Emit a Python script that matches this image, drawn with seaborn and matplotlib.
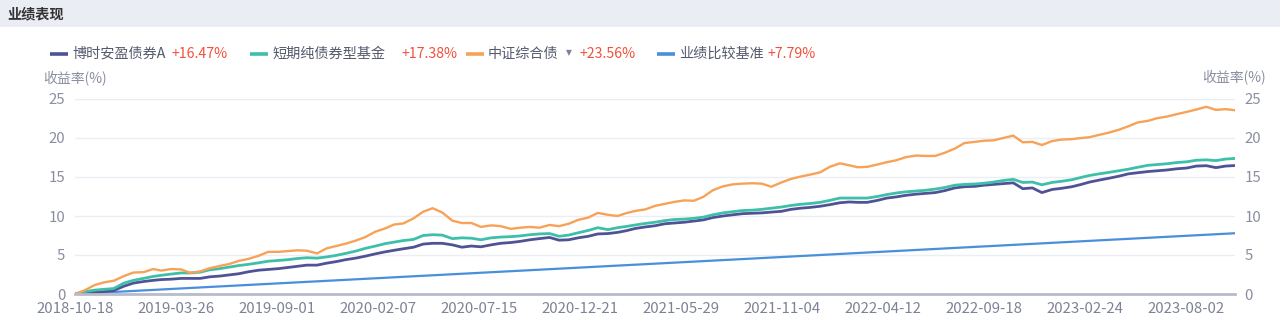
import matplotlib
matplotlib.use("Agg")
import matplotlib.pyplot as plt
from matplotlib.lines import Line2D
from matplotlib.patches import Rectangle
import pandas as pd
import seaborn as sns

# ---------------- data ----------------
dates = [
    "2018-10-18",
    "2018-11-03", "2018-11-18", "2018-12-03", "2018-12-18",
    "2019-01-03", "2019-01-18", "2019-02-03", "2019-02-18", "2019-03-03", "2019-03-18",
    "2019-04-03", "2019-04-18", "2019-05-03", "2019-05-18", "2019-06-03", "2019-06-18",
    "2019-07-03", "2019-07-18", "2019-08-03", "2019-08-18", "2019-09-03", "2019-09-18",
    "2019-10-03", "2019-10-18", "2019-11-03", "2019-11-18", "2019-12-03", "2019-12-18",
    "2020-01-03", "2020-01-18", "2020-02-03", "2020-02-18", "2020-03-03", "2020-03-18",
    "2020-04-03", "2020-04-18", "2020-05-03", "2020-05-18", "2020-06-03", "2020-06-18",
    "2020-07-03", "2020-07-18", "2020-08-03", "2020-08-18", "2020-09-03", "2020-09-18",
    "2020-10-03", "2020-10-18", "2020-11-03", "2020-11-18", "2020-12-03", "2020-12-18",
    "2021-01-03", "2021-01-18", "2021-02-03", "2021-02-18", "2021-03-03", "2021-03-18",
    "2021-04-03", "2021-04-18", "2021-05-03", "2021-05-18", "2021-06-03", "2021-06-18",
    "2021-07-03", "2021-07-18", "2021-08-03", "2021-08-18", "2021-09-03", "2021-09-18",
    "2021-10-03", "2021-10-18", "2021-11-03", "2021-11-18", "2021-12-03", "2021-12-18",
    "2022-01-03", "2022-01-18", "2022-02-03", "2022-02-18", "2022-03-03", "2022-03-18",
    "2022-04-03", "2022-04-18", "2022-05-03", "2022-05-18", "2022-06-03", "2022-06-18",
    "2022-07-03", "2022-07-18", "2022-08-03", "2022-08-18", "2022-09-03", "2022-09-18",
    "2022-10-03", "2022-10-18", "2022-11-03", "2022-11-18", "2022-12-03", "2022-12-18",
    "2023-01-03", "2023-01-18", "2023-02-03", "2023-02-18", "2023-03-03", "2023-03-18",
    "2023-04-03", "2023-04-18", "2023-05-03", "2023-05-18", "2023-06-03", "2023-06-18",
    "2023-07-03", "2023-07-18", "2023-08-03", "2023-08-18", "2023-09-03", "2023-09-18",
    "2023-10-03", "2023-10-18",
]

fund_a = [
    0.0, 0.15, 0.2, 0.3, 0.45, 1.0, 1.4, 1.6, 1.75, 1.85, 1.9,
    2.0, 2.0, 2.0, 2.2, 2.3, 2.45, 2.6, 2.85, 3.05, 3.15, 3.25, 3.4,
    3.55, 3.7, 3.7, 3.95, 4.15, 4.4, 4.6, 4.85, 5.15, 5.4, 5.6, 5.8,
    6.0, 6.4, 6.5, 6.5, 6.3, 6.0, 6.15, 6.05, 6.3, 6.5, 6.6, 6.75,
    6.95, 7.1, 7.25, 6.9, 6.95, 7.2, 7.4, 7.7, 7.75, 7.9, 8.1, 8.4,
    8.6, 8.75, 9.0, 9.1, 9.2, 9.35, 9.5, 9.8, 10.0, 10.15, 10.3, 10.35,
    10.4, 10.5, 10.6, 10.85, 11.0, 11.1, 11.25, 11.45, 11.7, 11.8, 11.75, 11.75,
    12.0, 12.3, 12.45, 12.65, 12.8, 12.9, 13.0, 13.25, 13.6, 13.75, 13.8, 13.95,
    14.05, 14.15, 14.25, 13.5, 13.6, 13.0, 13.4, 13.55, 13.75, 14.05, 14.35, 14.6,
    14.85, 15.1, 15.4, 15.55, 15.7, 15.8, 15.9, 16.05, 16.15, 16.4, 16.45, 16.2,
    16.4, 16.47,
]

short_bond = [
    0.0, 0.3, 0.5, 0.6, 0.7, 1.4, 1.75, 2.0, 2.25, 2.4, 2.55,
    2.7, 2.7, 2.8, 3.1, 3.25, 3.45, 3.65, 3.8, 4.0, 4.2, 4.3, 4.4,
    4.55, 4.65, 4.6, 4.75, 4.95, 5.2, 5.5, 5.85, 6.15, 6.45, 6.65, 6.85,
    7.0, 7.5, 7.6, 7.55, 7.1, 7.2, 7.15, 6.95, 7.2, 7.3, 7.35, 7.45,
    7.6, 7.7, 7.75, 7.4, 7.55, 7.85, 8.15, 8.5, 8.25, 8.5, 8.65, 8.85,
    9.05, 9.2, 9.4, 9.55, 9.6, 9.7, 9.85, 10.15, 10.4, 10.55, 10.7, 10.75,
    10.85, 11.0, 11.15, 11.35, 11.5, 11.6, 11.75, 12.0, 12.3, 12.3, 12.3, 12.3,
    12.5, 12.75, 12.95, 13.1, 13.2, 13.3, 13.45, 13.65, 13.95, 14.05, 14.1, 14.2,
    14.35, 14.55, 14.7, 14.3, 14.35, 14.0, 14.3, 14.45, 14.65, 14.95, 15.2, 15.4,
    15.6, 15.8, 16.0, 16.25, 16.5, 16.6, 16.7, 16.85, 16.95, 17.15, 17.2, 17.1,
    17.3, 17.38,
]

csi_bond = [
    0.0, 0.5, 1.15, 1.5, 1.7, 2.3, 2.75, 2.8, 3.2, 3.0, 3.2,
    3.15, 2.7, 2.9, 3.3, 3.6, 3.85, 4.25, 4.5, 4.9, 5.4, 5.4, 5.5,
    5.6, 5.55, 5.2, 5.85, 6.15, 6.45, 6.85, 7.3, 8.0, 8.4, 8.9, 9.05,
    9.7, 10.55, 11.0, 10.45, 9.4, 9.1, 9.1, 8.6, 8.8, 8.7, 8.35, 8.5,
    8.6, 8.5, 8.85, 8.7, 9.0, 9.5, 9.8, 10.4, 10.15, 10.0, 10.35, 10.65,
    10.85, 11.3, 11.55, 11.8, 12.0, 11.95, 12.45, 13.3, 13.8, 14.05, 14.15, 14.2,
    14.15, 13.75, 14.3, 14.75, 15.05, 15.3, 15.6, 16.3, 16.75, 16.5, 16.25, 16.3,
    16.6, 16.9, 17.15, 17.55, 17.75, 17.7, 17.7, 18.1, 18.65, 19.35, 19.5, 19.65,
    19.7, 20.0, 20.3, 19.45, 19.5, 19.1, 19.6, 19.8, 19.85, 20.0, 20.1, 20.4,
    20.7, 21.05, 21.5, 22.0, 22.2, 22.55, 22.75, 23.05, 23.35, 23.65, 24.0, 23.6,
    23.7, 23.56,
]

bench_dates = ["2018-10-18", "2021-04-18", "2023-10-18"]
benchmark = [0.0, 3.89, 7.79]

series_names = ["博时安盈债券A", "短期纯债券型基金", "中证综合债", "业绩比较基准"]
series_returns = ["+16.47%", "+17.38%", "+23.56%", "+7.79%"]
series_colors = ["#4f5396", "#3dbfa9", "#f7a257", "#4a8fdb"]

xtick_labels = ["2018-10-18", "2019-03-26", "2019-09-01", "2020-02-07", "2020-07-15",
                "2020-12-21", "2021-05-29", "2021-11-04", "2022-04-12", "2022-09-18",
                "2023-02-24", "2023-08-02"]
ytick_values = [0, 5, 10, 15, 20, 25]

# ---------------- build table ----------------
frames = []
for name, vals in zip(series_names[:3], [fund_a, short_bond, csi_bond]):
    frames.append(pd.DataFrame({"date": pd.to_datetime(dates), "value": vals, "series": name}))
frames.append(pd.DataFrame({"date": pd.to_datetime(bench_dates), "value": benchmark,
                            "series": series_names[3]}))
df = pd.concat(frames, ignore_index=True)

# ---------------- style ----------------
sns.set_theme(style="white")
FONT = ["Noto Sans CJK SC", "DejaVu Sans"]
plt.rcParams["font.family"] = FONT

W, H = 1280, 319
fig = plt.figure(figsize=(W / 100, H / 100), dpi=100)
fig.patch.set_facecolor("white")

def fx(px):
    return px / W

def fy(py):
    return 1 - py / H

# title bar
fig.patches.append(Rectangle((0, fy(27)), 1, 1 - fy(27), transform=fig.transFigure,
                             facecolor="#ebedf5", edgecolor="none", zorder=0))
fig.text(fx(7), fy(14), "业绩表现", fontsize=10.2, fontweight="bold", color="#333333",
         ha="left", va="center")

ax = fig.add_axes([fx(75), fy(294), fx(1235) - fx(75), fy(99) - fy(294)])
ax.set_facecolor("white")

palette = dict(zip(series_names, series_colors))
widths = {series_names[0]: 2.0, series_names[1]: 2.0, series_names[2]: 1.7, series_names[3]: 1.6}
order = [series_names[3], series_names[0], series_names[1], series_names[2]]
for name in order:
    sub = df[df["series"] == name]
    sns.lineplot(data=sub, x="date", y="value", color=palette[name], lw=widths[name],
                 ax=ax, legend=False, estimator=None, sort=False)

ax.set_xlim(pd.Timestamp("2018-10-18"), pd.Timestamp("2023-10-18"))
ax.set_ylim(0, 25)
ax.set_xlabel("")
ax.set_ylabel("")
ax.set_xticks(pd.to_datetime(xtick_labels))
ax.set_xticklabels(xtick_labels)
ax.set_yticks(ytick_values)
ax.set_yticklabels([str(v) for v in ytick_values])
ax.grid(axis="y", color="#eceef5", lw=1)
ax.grid(axis="x", visible=False)
for s in ["top", "right", "left"]:
    ax.spines[s].set_visible(False)
ax.spines["bottom"].set_color("#b8bbcb")
ax.spines["bottom"].set_linewidth(2)
ax.tick_params(axis="x", length=0, pad=6, labelsize=10.8, labelcolor="#7d8296")
ax.tick_params(axis="y", length=0, pad=7, labelsize=10.8, labelcolor="#8a8ea0")

ax2 = ax.twinx()
ax2.set_ylim(0, 25)
ax2.set_yticks(ytick_values)
ax2.set_yticklabels([str(v) for v in ytick_values])
for s in ["top", "right", "left", "bottom"]:
    ax2.spines[s].set_visible(False)
ax2.tick_params(axis="y", length=0, pad=7, labelsize=10.8, labelcolor="#8a8ea0")
ax2.grid(False)

# axis titles
fig.text(fx(43), fy(79), "收益率(%)", fontsize=10, color="#8a8ea0", ha="left", va="center")
fig.text(fx(1266), fy(78), "收益率(%)", fontsize=10, color="#8a8ea0", ha="right", va="center")

# legend (manual)
leg_y = fy(54)
handles = [(50, 68), (250, 268), (466, 484), (657, 675)]
text_x = [72, 272, 488, 679]
val_x = [172, 402, 579, 768]
for i in range(4):
    x0, x1 = handles[i]
    fig.lines.append(Line2D([fx(x0), fx(x1)], [leg_y, leg_y], transform=fig.transFigure,
                            color=series_colors[i], lw=2.6, solid_capstyle="butt"))
    fig.text(fx(text_x[i]), leg_y, series_names[i], fontsize=10.2, color="#555a6e",
             ha="left", va="center")
    fig.text(fx(val_x[i]), leg_y, series_returns[i], fontsize=10.2, color="#f2503c",
             ha="left", va="center")
fig.text(fx(569), leg_y + 0.004, "▼", fontsize=5.5, color="#7d8296", ha="center", va="center",
         family=["DejaVu Sans"])

fig.savefig("out.png", dpi=100)
